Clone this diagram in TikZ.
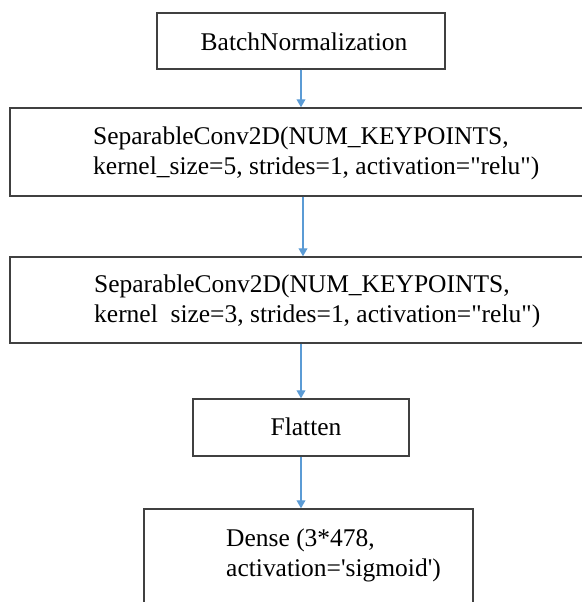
\documentclass[tikz,border=0pt]{standalone}
\usepackage{fontspec}
\setmainfont{Liberation Serif}
\usetikzlibrary{arrows.meta,positioning}
\definecolor{arrowblue}{RGB}{91,155,213}

\begin{document}
\begin{tikzpicture}[>={Triangle[width=5pt,length=4.5pt]},font=\fontsize{14.5}{17}\selectfont,
layer/.style={draw=black!75,line width=.85pt,inner sep=0pt},
link/.style={->,draw=arrowblue,fill=arrowblue,line width=.7pt}]
\useasboundingbox (0,0) rectangle (11.64,-12.04);
\clip (0,0) rectangle (11.64,-12.04);
\node[layer,minimum width=5.76cm,minimum height=1.12cm] (bn) at (6.02,-.82) {};
\node[layer,minimum width=11.72cm,minimum height=1.76cm] (conva) at (6.06,-3.04) {};
\node[layer,minimum width=11.72cm,minimum height=1.72cm] (convb) at (6.06,-6.00) {};
\node[layer,minimum width=4.32cm,minimum height=1.14cm] (flat) at (6.02,-8.55) {};
\node[layer,minimum width=6.58cm,minimum height=2.62cm] (dense) at (6.17,-11.49) {};
\node (bntxt) at (6.08,-.84) {BatchNormalization};
\node[anchor=west,align=left] (convatxt) at (1.74,-3.07) {SeparableConv2D(NUM\_KEYPOINTS,\\kernel\_size=5, strides=1, activation=\textquotedbl relu\textquotedbl)};
\node[anchor=west,align=left] (convbtxt) at (1.76,-6.02) {SeparableConv2D(NUM\_KEYPOINTS,\\kernel\ \ size=3, strides=1, activation=\textquotedbl relu\textquotedbl)};
\node (flattxt) at (6.12,-8.54) {Flatten};
\node[anchor=west,align=left] (densetxt) at (4.40,-11.11) {Dense (3*478,\\activation=\textquotesingle sigmoid\textquotesingle)};
\draw[link] (bn.south) -- (bn.south |- conva.north);
\draw[link] (conva.south) -- (convb.north);
\draw[link] (flat.north |- convb.south) -- (flat.north);
\draw[link] (flat.south) -- (flat.south |- dense.north);
\end{tikzpicture}
\end{document}
